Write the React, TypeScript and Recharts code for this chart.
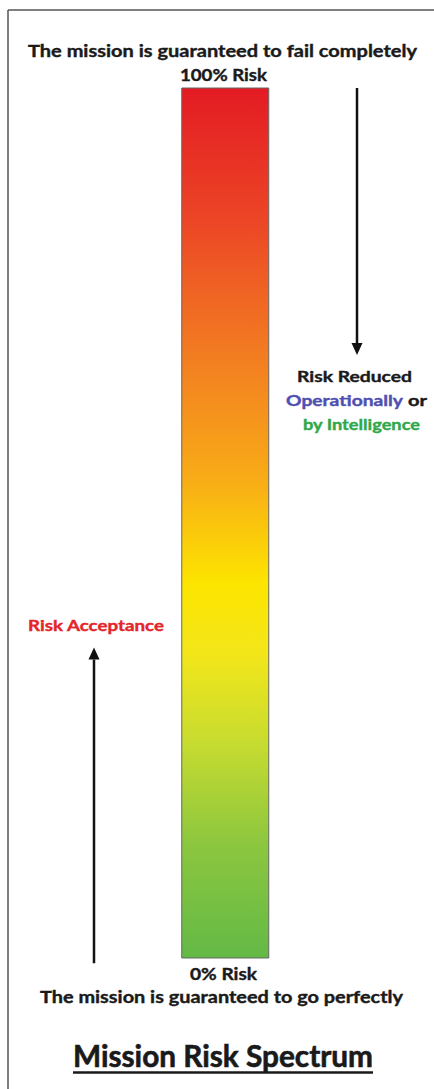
import { BarChart, Bar, XAxis, YAxis, ReferenceLine } from 'recharts';

// lanes across the page: left arrow, the spectrum bar, right arrow
const LANES = ['Risk Acceptance', 'Mission Risk', 'Risk Reduction'];
const RISK_LEVELS = [null, 100, null];
// arrow ranges in % risk (start -> tip)
const REDUCTION_ARROW = [100, 69.3];
const ACCEPTANCE_ARROW = [-0.6, 35.7];

const rows = LANES.map((lane, i) => ({ lane, risk: RISK_LEVELS[i] }));

const FONT = 'Lato, "Open Sans", sans-serif';

// vertical arrow, tip at (x2, y2)
function Arrow(props: any) {
  const { x1, y1, x2, y2 } = props;
  const dir = y2 > y1 ? 1 : -1;
  const head = 12;
  return (
    <g>
      <line x1={x1} y1={y1} x2={x2} y2={y2 - dir * head} stroke="#111" strokeWidth={2.5} />
      <polygon
        points={`${x2 - 5.5},${y2 - dir * head} ${x2 + 5.5},${y2 - dir * head} ${x2},${y2}`}
        fill="#111"
      />
    </g>
  );
}

function Txt({ x, y, len, size = 17, fill = '#1a1a1a', anchor = 'middle', children }: any) {
  return (
    <text
      x={x}
      y={y}
      textAnchor={anchor}
      fontFamily={FONT}
      fontWeight={700}
      fontSize={size}
      fill={fill}
      stroke={fill}
      strokeWidth={size > 20 ? 0.6 : 0.4}
      textLength={len}
      lengthAdjust="spacingAndGlyphs"
    >
      {children}
    </text>
  );
}

export default function App() {
  return (
    <div style={{ position: 'absolute', left: 0, top: 0, width: 434, height: 1089, background: '#fff' }}>
      <BarChart
        width={434}
        height={1089}
        data={rows}
        margin={{ top: 88, bottom: 131, left: 28.25, right: 11.25 }}
      >
        <defs>
          <linearGradient id="riskGradient" x1="0" y1="0" x2="0" y2="1">
            <stop offset="0%" stopColor="#e31b23" />
            <stop offset="15%" stopColor="#ec4526" />
            <stop offset="30%" stopColor="#f27a22" />
            <stop offset="45%" stopColor="#f8ac17" />
            <stop offset="57%" stopColor="#fde500" />
            <stop offset="65%" stopColor="#f3e61a" />
            <stop offset="75%" stopColor="#c8dc2f" />
            <stop offset="87%" stopColor="#8cc63f" />
            <stop offset="100%" stopColor="#63b946" />
          </linearGradient>
        </defs>
        <XAxis dataKey="lane" hide />
        <YAxis domain={[0, 100]} hide />
        <Bar
          dataKey="risk"
          barSize={87}
          fill="url(#riskGradient)"
          stroke="#666"
          strokeWidth={1}
          isAnimationActive={false}
        />
        <ReferenceLine
          segment={[
            { x: LANES[2], y: REDUCTION_ARROW[0] },
            { x: LANES[2], y: REDUCTION_ARROW[1] },
          ]}
          ifOverflow="visible"
          shape={Arrow}
        />
        <ReferenceLine
          segment={[
            { x: LANES[0], y: ACCEPTANCE_ARROW[0] },
            { x: LANES[0], y: ACCEPTANCE_ARROW[1] },
          ]}
          ifOverflow="visible"
          shape={Arrow}
        />
      </BarChart>
      <svg
        width={434}
        height={1089}
        style={{ position: 'absolute', left: 0, top: 0, pointerEvents: 'none' }}
      >
        <line x1={8} y1={10} x2={434} y2={10} stroke="#555" strokeWidth={1.5} />
        <line x1={8} y1={10} x2={8} y2={1089} stroke="#555" strokeWidth={1.5} />

        <Txt x={222.5} y={57} len={389}>The mission is guaranteed to fail completely</Txt>
        <Txt x={223.5} y={81} len={87}>100% Risk</Txt>

        <Txt x={354.5} y={382} len={115} size={16}>Risk Reduced</Txt>
        <Txt x={286} y={406} len={117} size={16} anchor="start" fill="#5050b0">Operationally</Txt>
        <Txt x={408} y={406} len={19} size={16} anchor="start">or</Txt>
        <Txt x={361.5} y={430} len={117} size={16} fill="#2fa84a">by Intelligence</Txt>

        <Txt x={96} y={631} len={136} size={16} fill="#e3262b">Risk Acceptance</Txt>

        <Txt x={223.5} y={980} len={67}>0% Risk</Txt>
        <Txt x={221.5} y={1003} len={363}>The mission is guaranteed to go perfectly</Txt>

        <Txt x={223} y={1067} len={300} size={30}>Mission Risk Spectrum</Txt>
        <line x1={73} y1={1072.5} x2={373} y2={1072.5} stroke="#1a1a1a" strokeWidth={2.5} />
      </svg>
    </div>
  );
}
